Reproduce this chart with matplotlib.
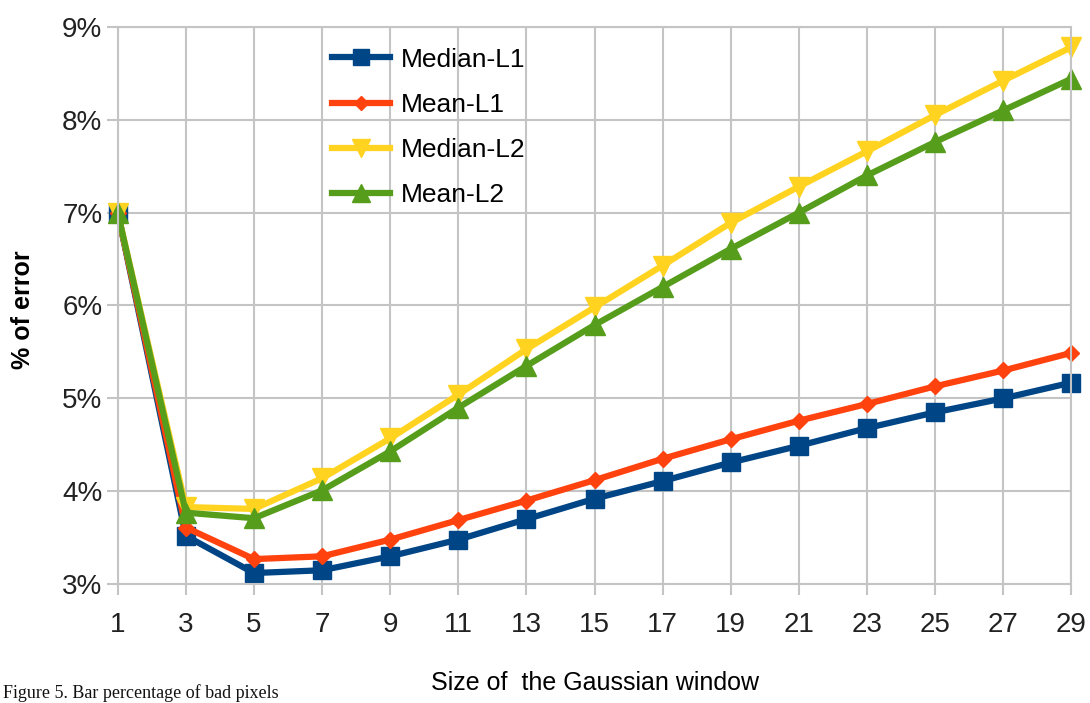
import matplotlib
matplotlib.use("Agg")
import matplotlib.pyplot as plt
from matplotlib.ticker import FuncFormatter

# data
window = [1, 3, 5, 7, 9, 11, 13, 15, 17, 19, 21, 23, 25, 27, 29]
median_l1 = [7.0, 3.52, 3.12, 3.15, 3.30, 3.48, 3.70, 3.92, 4.11, 4.31, 4.49, 4.68, 4.85, 5.00, 5.17]
mean_l1 = [7.0, 3.61, 3.27, 3.30, 3.48, 3.69, 3.90, 4.12, 4.35, 4.56, 4.76, 4.94, 5.13, 5.30, 5.49]
median_l2 = [7.0, 3.83, 3.81, 4.14, 4.57, 5.04, 5.53, 5.98, 6.43, 6.89, 7.28, 7.66, 8.05, 8.42, 8.78]
mean_l2 = [7.0, 3.77, 3.71, 4.01, 4.43, 4.90, 5.35, 5.79, 6.20, 6.61, 7.00, 7.40, 7.76, 8.10, 8.44]

x_ticks = window
y_ticks = [3, 4, 5, 6, 7, 8, 9]

plt.rcParams['font.family'] = ['Liberation Sans', 'DejaVu Sans']

fig = plt.figure(figsize=(10.9, 7.03), dpi=100)
ax = fig.add_axes([0.108, 0.169, 0.875, 0.793])

grid_col = '#c4c4c4'
series = [
    ("Median-L1", median_l1, '#004586', 's', 13),
    ("Mean-L1", mean_l1, '#ff420e', 'D', 8),
    ("Median-L2", median_l2, '#ffd320', 'v', 14),
    ("Mean-L2", mean_l2, '#579d1c', '^', 14),
]
for name, vals, col, mk, ms in series:
    ax.plot(window, vals, color=col, lw=4.5, marker=mk, ms=ms, label=name, clip_on=False)

ax.set_xlim(1, 29)
ax.set_ylim(3, 9)
ax.set_xticks(x_ticks)
ax.set_yticks(y_ticks)
ax.yaxis.set_major_formatter(FuncFormatter(lambda v, p: "%d%%" % v))
ax.grid(True, color=grid_col, lw=1.5)
ax.set_axisbelow(True)
for s in ax.spines.values():
    s.set_color(grid_col)
    s.set_linewidth(1.5)
ax.tick_params(axis='both', colors=grid_col, length=8, width=1.5, labelsize=20,
               labelcolor='#222222')
ax.tick_params(axis='y', pad=3)
ax.tick_params(axis='x', pad=12)

fig.text(0.021, 0.56, "% of error", rotation=90, fontsize=18, fontweight='bold',
         ha='center', va='center')
ax.set_xlabel("Size of  the Gaussian window", fontsize=18, labelpad=24)

ax.legend(loc='upper left', bbox_to_anchor=(0.2, 1.005), frameon=False, fontsize=19,
          handlelength=2.2, labelspacing=0.8, handletextpad=0.4, markerscale=0.9)

# caption at the bottom edge
fig.text(0.003, 0.002, "Figure 5. Bar percentage of bad pixels", fontsize=13,
         family=['Liberation Serif', 'DejaVu Serif'], va='bottom', color='#111111')

fig.savefig("out.png", dpi=100)
